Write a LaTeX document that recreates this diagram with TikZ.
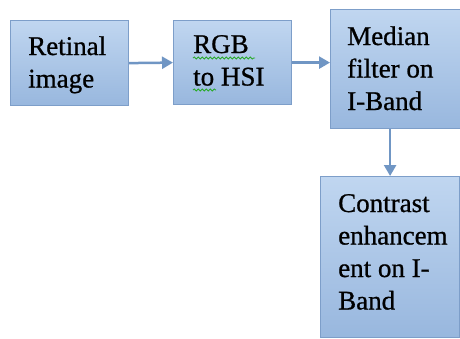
\documentclass[tikz,border=0pt]{standalone}
\usepackage{fontspec}
\setmainfont{Liberation Serif}
\newfontfamily\boxfont[FakeBold=0.8]{Liberation Serif}
\usetikzlibrary{arrows.meta,decorations.pathmorphing}
\definecolor{boxtop}{RGB}{192,214,240}
\definecolor{boxbot}{RGB}{152,183,222}
\definecolor{boxline}{RGB}{125,158,201}
\definecolor{arrcol}{RGB}{112,150,196}
\definecolor{spellgreen}{RGB}{40,170,40}
\begin{document}
\begin{tikzpicture}[x=1pt,y=-1pt,
  box/.style={draw=boxline, line width=1.2pt, top color=boxtop, bottom color=boxbot,
    inner sep=0pt, anchor=north west},
  txt/.style={anchor=base west, inner sep=0pt,
    font=\boxfont\fontsize{27}{32.5}\selectfont},
  arr/.style={draw=arrcol, line width=2.5pt, -{Triangle[length=11pt,width=12pt]}},
  wavy/.style={draw=spellgreen, line width=0.8pt,
    decorate, decoration={snake, segment length=4pt, amplitude=1.1pt}}]
\useasboundingbox (0,0) rectangle (460,338);
\fill[white] (0,0) rectangle (460,338);
% boxes
\node[box, minimum width=118pt, minimum height=85pt] (b1) at (10,20) {};
\node[box, minimum width=118pt, minimum height=84pt] (b2) at (173,20) {};
\node[box, minimum width=150pt, minimum height=119pt] (b3) at (330,9) {};
\node[box, minimum width=139pt, minimum height=161pt] (b4) at (320,176) {};
% texts
\node[txt] (t1) at (28,55) {\parbox[t]{110pt}{\boxfont Retinal\\image}};
\node[txt] (t2) at (193,53) {\parbox[t]{110pt}{\boxfont RGB\\to HSI}};
\node[txt] (t3) at (347,45) {\parbox[t]{120pt}{\boxfont Median\\filter on\\I-Band}};
\node[txt] (t4) at (338,212) {\parbox[t]{120pt}{\boxfont Contrast\\enhancem\\ent on I-\\Band}};
% spell-check underlines
\draw[wavy] ([yshift=-5pt]t2.base west) -- ++(62,0);
\draw[wavy] ([yshift=-37pt]t2.base west) -- ++(23,0);
% connectors
\draw[arr] (b1.east) -- (b2.west);
\draw[arr] (b2.east) -- (b2.east -| b3.west);
\draw[arr] (b3.south -| b4.north) -- (b4.north);
\end{tikzpicture}
\end{document}
